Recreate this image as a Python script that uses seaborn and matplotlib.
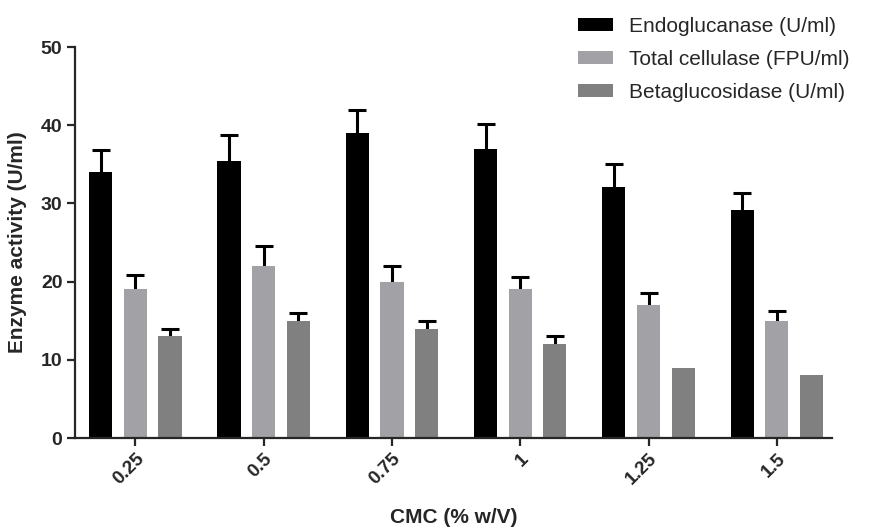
import matplotlib
matplotlib.use("Agg")
import matplotlib.pyplot as plt
import seaborn as sns
import pandas as pd
import numpy as np

categories = ["0.25", "0.5", "0.75", "1", "1.25", "1.5"]
series = ["Endoglucanase (U/ml)", "Total cellulase (FPU/ml)", "Betaglucosidase (U/ml)"]
endo = [34, 35.4, 39, 37, 32.1, 29.1]
endo_err = [2.8, 3.4, 3.0, 3.2, 3.0, 2.2]
total = [19, 22, 20, 19, 17, 15]
total_err = [1.9, 2.6, 2.0, 1.6, 1.5, 1.3]
beta = [13, 15, 14, 12, 9, 8]
beta_err = [1.0, 1.0, 1.0, 1.0, 0.0, 0.0]
colors = ["#000000", "#a2a2a6", "#808080"]

sns.set_style("ticks")
plt.rcParams['font.family'] = ['Liberation Sans', 'DejaVu Sans']

df = pd.DataFrame({
    "CMC": categories * 3,
    "series": [s for s in series for _ in categories],
    "value": endo + total + beta,
})
errs = endo_err + total_err + beta_err

fig = plt.figure(figsize=(8.78, 5.29), dpi=100)
ax = fig.add_axes([0.0854, 0.172, 0.8622, 0.739])
sns.barplot(data=df, x="CMC", y="value", hue="series", order=categories,
            hue_order=series, palette=colors, width=0.81, gap=0.33,
            errorbar=None, ax=ax, linewidth=0, saturation=1)

bars = list(ax.patches)[:len(df)]
xs = np.array([p.get_x() + p.get_width() / 2 for p in bars])
ys = np.array([p.get_height() for p in bars])
yerr_up = np.array(errs)
mask = yerr_up > 0
_, caplines, _ = ax.errorbar(xs[mask], ys[mask],
            yerr=[np.zeros(mask.sum()), yerr_up[mask]], fmt="none",
            ecolor="black", elinewidth=2.2, capsize=6.5, capthick=2.2, zorder=0)
caplines[0].set_visible(False)

ax.set_ylim(0, 50)
ax.set_xlim(-0.47, 5.43)
ax.set_yticks([0, 10, 20, 30, 40, 50])
ax.set_ylabel("Enzyme activity (U/ml)", fontsize=15, fontweight="bold", labelpad=10)
ax.set_xlabel("CMC (% w/V)", fontsize=15, fontweight="bold", labelpad=14)
for lbl in ax.get_yticklabels():
    lbl.set_fontweight("bold")
    lbl.set_fontsize(14)
ax.set_xticks(range(len(categories)))
ax.set_xticklabels(categories, rotation=45, ha="right", rotation_mode="anchor",
                   fontsize=13.5, fontweight="bold")
ax.tick_params(axis="both", width=1.6, length=6, direction="out", pad=3)
for s in ["left", "bottom"]:
    ax.spines[s].set_linewidth(1.6)
sns.despine(ax=ax)

handles, labels = ax.get_legend_handles_labels()
ax.legend(handles, labels, loc="upper left", bbox_to_anchor=(0.649, 0.984),
          bbox_transform=fig.transFigure, frameon=False, fontsize=15,
          handlelength=1.65, handleheight=0.6, labelspacing=0.68, handletextpad=0.8,
          borderaxespad=0)

fig.savefig("out.png", dpi=100)
